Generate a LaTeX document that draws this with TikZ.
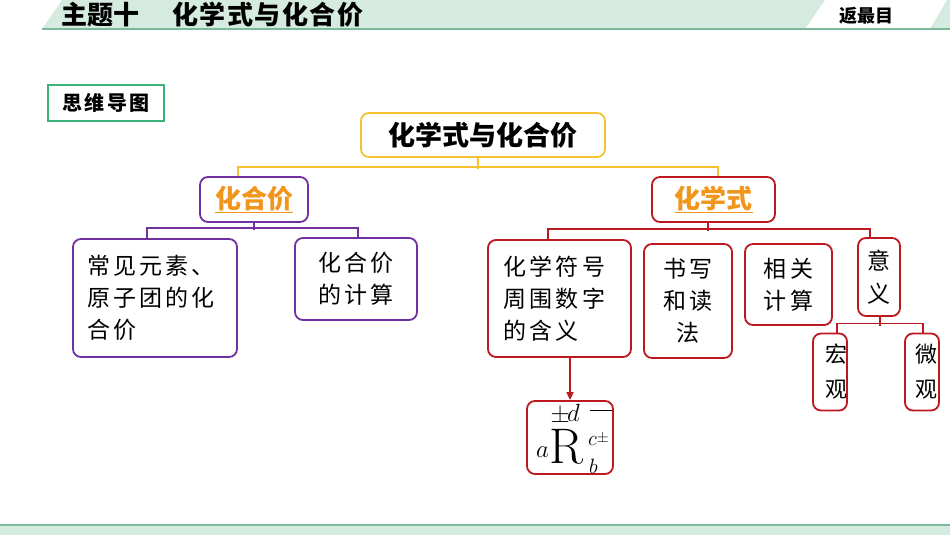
\documentclass[tikz,border=0pt]{standalone}
\usepackage{fontspec}
\newfontfamily\cjk{Noto Sans CJK SC}
\newfontfamily\cjks[LetterSpace=14]{Noto Sans CJK SC}
\usetikzlibrary{arrows.meta}
\definecolor{hdr}{RGB}{213,235,224}
\definecolor{hln}{RGB}{122,186,152}
\definecolor{grn}{RGB}{60,178,120}
\definecolor{ylw}{RGB}{243,194,48}
\definecolor{pur}{RGB}{112,48,160}
\definecolor{drd}{RGB}{188,24,32}
\definecolor{orng}{RGB}{240,150,28}
\tikzset{
  boxbase/.style={rounded corners=8pt, line width=1.8pt, inner sep=0pt, align=center},
  pbox/.style={boxbase, draw=pur},
  rbox/.style={boxbase, draw=drd},
  ybox/.style={boxbase, draw=ylw},
  boxtxt/.style={font=\cjks\fontsize{23}{32}\selectfont},
  ktxt/.style={font=\cjk\bfseries\fontsize{26}{30}\selectfont, text=orng},
  yl/.style={draw=ylw, line width=1.6pt},
  pl/.style={draw=pur, line width=1.6pt},
  rl/.style={draw=drd, line width=1.6pt},
  mth/.style={inner sep=0pt}
}
\begin{document}
\begin{tikzpicture}[x=1pt,y=-1pt]
\useasboundingbox (0,0) rectangle (950,535);
% header
\fill[hdr] (42,29) -- (62,0) -- (825,0) -- (805,29) -- cycle;
\fill[hdr] (930,29) -- (947,0) -- (950,0) -- (950,29) -- cycle;
\draw[hln, line width=2pt] (42,29.5) -- (950,29.5);
\node[anchor=west, inner sep=0pt, font=\cjk\bfseries\fontsize{26}{26}\selectfont] (ht1) at (61,15) {主题十};
\node[anchor=west, inner sep=0pt, font=\cjk\bfseries\fontsize{26}{26}\selectfont\addfontfeature{LetterSpace=6}] (ht2) at (172,15) {化学式与化合价};
\node[inner sep=0pt, font=\cjk\bfseries\fontsize{18}{18}\selectfont] (back) at (866,16) {返最目};
% footer
\fill[hdr] (0,525) rectangle (950,535);
\draw[hln, line width=2pt] (0,524.5) -- (950,524.5);
% mind map label
\node[draw=grn, line width=1.3pt, minimum width=116pt, minimum height=36pt, inner sep=0pt,
      font=\cjk\bfseries\fontsize{20}{20}\selectfont\addfontfeature{LetterSpace=12}] (mm) at (106,103) {思维导图};
% root
\node[ybox, minimum width=244pt, minimum height=44pt, font=\cjk\bfseries\fontsize{27}{30}\selectfont] (root) at (483,135) {化学式与化合价};
% level 1
\node[pbox, ktxt, minimum width=108pt, minimum height=45pt] (kval) at (254,199.5) {\underline{化合价}};
\node[rbox, ktxt, minimum width=123pt, minimum height=45pt] (kchem) at (713.5,199.5) {\underline{化学式}};
% purple children
\node[pbox, boxtxt, minimum width=164pt, minimum height=118pt, text width=136pt, align=left] (pcommon) at (155,298) {常见元素、\\原子团的化\\合价};
\node[pbox, boxtxt, minimum width=122pt, minimum height=82pt] (pcalc) at (356,279) {化合价\\的计算};
% red children
\node[rbox, boxtxt, minimum width=143pt, minimum height=117pt, text width=112pt, align=left] (rsym) at (559.5,298.5) {化学符号\\周围数字\\的含义};
\node[rbox, boxtxt, minimum width=88pt, minimum height=114pt] (rwrite) at (688,301) {书写\\和读\\法};
\node[rbox, boxtxt, minimum width=87pt, minimum height=81pt] (rcalc) at (788.5,284.5) {相关\\计算};
\node[rbox, font=\cjk\fontsize{23}{33}\selectfont, minimum width=42pt, minimum height=78pt] (rmean) at (879,277) {意\\义};
\node[rbox, font=\cjk\fontsize{22}{35}\selectfont, minimum width=34pt, minimum height=77pt] (rhong) at (830,372) {\hspace*{12pt}宏\\\hspace*{12pt}观};
\node[rbox, font=\cjk\fontsize{22}{35}\selectfont, minimum width=34pt, minimum height=77pt] (rwei) at (922,372) {\hspace*{8pt}微\\\hspace*{8pt}观};
% formula box
\node[rbox, minimum width=86pt, minimum height=73pt] (rR) at (570,437.5) {};
\node[mth, anchor=base west, font=\fontsize{19}{19}\selectfont] (fpm) at (550.5,422) {\scalebox{1.4}{±}};
\node[mth, anchor=base west, font=\fontsize{24}{24}\selectfont] (fd) at (567,421.5) {$d$};
\draw[line width=1pt] (590,410) -- (612,410);
\node[mth, anchor=base west, font=\fontsize{20}{20}\selectfont] (fc) at (588,445) {$c$\raisebox{3pt}{\fontsize{13}{13}\selectfont\scalebox{1.2}{±}}};
\node[mth, anchor=base west, font=\fontsize{24}{24}\selectfont] (fa) at (536,457) {$a$};
\node[mth, anchor=base west, font=\fontsize{50}{50}\selectfont] (fR) at (549,463.5) {R};
\node[mth, anchor=base west, font=\fontsize{22}{22}\selectfont] (fb) at (589,473) {$b$};
% connectors
\draw[yl] ([xshift=-5pt]root.south) -- ++(0,11);
\draw[yl] ([xshift=-16pt]kval.north) -- ++(0,-9) -| ([xshift=4.5pt]kchem.north);
\draw[pl] (kval.south) -- ++(0,7.5);
\draw[pl] ([xshift=-8pt]pcommon.north) -- ++(0,-10) -| ([xshift=2pt]pcalc.north);
\draw[rl] ([xshift=-5.5pt]kchem.south) -- ++(0,8);
\draw[rl] ([xshift=-11.5pt]rsym.north) -- ++(0,-10) -| ([xshift=-9pt]rmean.north);
\draw[rl] ([xshift=1pt]rmean.south) -- ++(0,9);
\draw[rl] ([xshift=7pt]rhong.north) -- ++(0,-9) -| ([xshift=1pt]rwei.north);
\draw[rl, -{Triangle[length=8pt,width=7pt]}] ([xshift=10.5pt]rsym.south) -- (rR.north);
\end{tikzpicture}
\end{document}
